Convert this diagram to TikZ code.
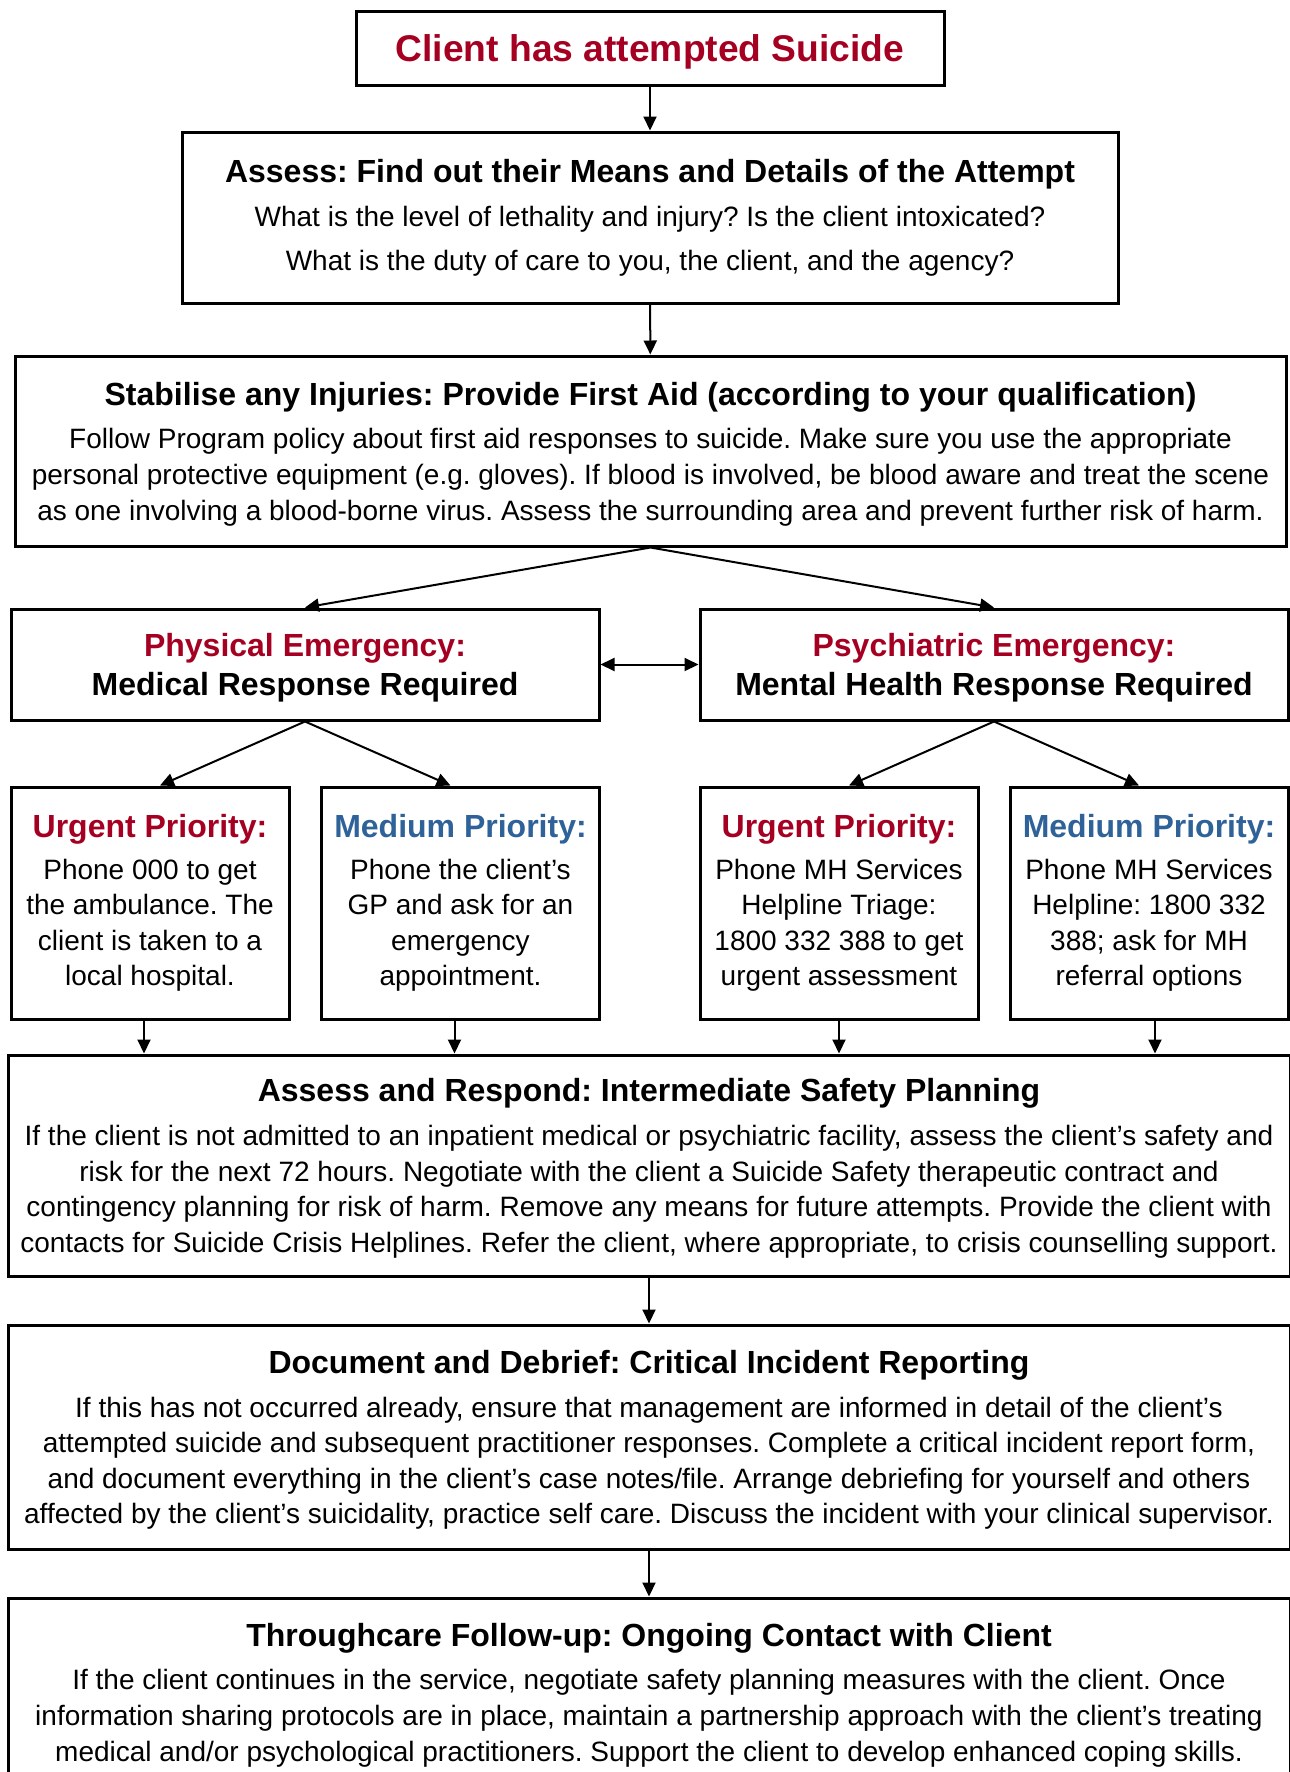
\documentclass[tikz,border=0pt]{standalone}
\usepackage{fontspec}
\setmainfont{Liberation Sans}
\usetikzlibrary{arrows.meta}
\definecolor{alertred}{RGB}{165,0,33}
\definecolor{calmblue}{RGB}{46,98,153}
\newcommand{\bodyfont}{\fontsize{14}{17.8}\selectfont\frenchspacing}
\newcommand{\headfont}{\fontsize{16}{19}\selectfont\bfseries}
\newcommand{\tagfont}{\fontsize{16}{19}\selectfont\bfseries}
\newcommand{\redtag}[1]{{\tagfont\color{alertred}#1}}
\newcommand{\bluetag}[1]{{\tagfont\color{calmblue}#1}}
\tikzset{
	box/.style={draw, line width=1.5pt, inner sep=0pt, align=center, font=\bodyfont},
	arr/.style={-{Triangle[length=7pt,width=6.5pt]}, line width=1pt},
	twoway/.style={{Triangle[length=7pt,width=6.5pt]}-{Triangle[length=7pt,width=6.5pt]}, line width=1pt}
}

\begin{document}
\begin{tikzpicture}[x=0.5pt, y=-0.5pt]
			%%%%% START %%%%%
			\useasboundingbox (0,0) rectangle (1290,1772);
			
			\node[box, minimum width=294pt, minimum height=37pt, text depth=0pt] (top) at (650, 48)
				{{\fontsize{18.6}{22}\selectfont\bfseries\color{alertred}Client has attempted Suicide}};
			
			\node[box, minimum width=468pt, minimum height=85.5pt, font={\fontsize{14}{22}\selectfont\frenchspacing}] (assess) at (650, 217.5)
				{{\headfont Assess: Find out their Means and Details of the Attempt}\\[0pt]
				What is the level of lethality and injury? Is the client intoxicated?\\
				What is the duty of care to you, the client, and the agency?};
			
			\node[box, minimum width=635.5pt, minimum height=95pt, text depth=0pt] (stab) at (650.5, 451)
				{{\headfont Stabilise any Injuries: Provide First Aid (according to your qualification)}\\[4pt]
				Follow Program policy about first aid responses to suicide. Make sure you use the appropriate\\
				personal protective equipment (e.g. gloves). If blood is involved, be blood aware and treat the scene\\
				as one involving a blood-borne virus. Assess the surrounding area and prevent further risk of harm.};
			
			\node[box, minimum width=294pt, minimum height=55.5pt, text depth=-4pt] (phys) at (305, 664.5)
				{\redtag{Physical Emergency:}\\[1.5pt]
				{\tagfont Medical Response Required}};
			\node[box, minimum width=294pt, minimum height=55.5pt, text depth=-4pt] (psych) at (994, 664.5)
				{\redtag{Psychiatric Emergency:}\\[1.5pt]
				{\tagfont Mental Health Response Required}};
			
			\node[box, minimum width=139pt, minimum height=116pt] (u1) at (150, 903)
				{\redtag{Urgent Priority:}\\[3pt]
				Phone 000 to get\\ the ambulance. The\\ client is taken to a\\ local hospital.};
			\node[box, minimum width=139pt, minimum height=116pt] (m1) at (460.5, 903)
				{\bluetag{Medium Priority:}\\[3pt]
				Phone the client’s\\ GP and ask for an\\ emergency\\ appointment.};
			\node[box, minimum width=139pt, minimum height=116pt] (u2) at (839, 903)
				{\redtag{Urgent Priority:}\\[3pt]
				Phone MH Services\\ Helpline Triage:\\ 1800 332 388 to get\\ urgent assessment};
			\node[box, minimum width=139pt, minimum height=116pt] (m2) at (1149, 903)
				{\bluetag{Medium Priority:}\\[3pt]
				Phone MH Services\\ Helpline: 1800 332\\ 388; ask for MH\\ referral options};
			
			\node[box, minimum width=641pt, minimum height=110.5pt, text depth=-4pt] (ar) at (649, 1165.5)
				{{\headfont Assess and Respond: Intermediate Safety Planning}\\[4pt]
				If the client is not admitted to an inpatient medical or psychiatric facility, assess the client’s safety and\\
				risk for the next 72 hours. Negotiate with the client a Suicide Safety therapeutic contract and\\
				contingency planning for risk of harm. Remove any means for future attempts. Provide the client with\\
				contacts for Suicide Crisis Helplines. Refer the client, where appropriate, to crisis counselling support.};
			
			\node[box, minimum width=641pt, minimum height=112pt, text depth=-3pt] (doc) at (649, 1437)
				{{\headfont Document and Debrief: Critical Incident Reporting}\\[4pt]
				If this has not occurred already, ensure that management are informed in detail of the client’s\\
				attempted suicide and subsequent practitioner responses. Complete a critical incident report form,\\
				and document everything in the client’s case notes/file. Arrange debriefing for yourself and others\\
				affected by the client’s suicidality, practice self care. Discuss the incident with your clinical supervisor.};
			
			\node[box, minimum width=641pt, minimum height=97pt] (thr) at (649, 1695)
				{{\headfont Throughcare Follow-up: Ongoing Contact with Client}\\[4pt]
				If the client continues in the service, negotiate safety planning measures with the client. Once\\
				information sharing protocols are in place, maintain a partnership approach with the client’s treating\\
				medical and/or psychological practitioners. Support the client to develop enhanced coping skills.};
			
			% connectors
			\draw[arr] (top) -- (assess);
			\draw[arr] (assess) -- (stab);
			\draw[arr] (stab.south) -- (phys.north);
			\draw[arr] (stab.south) -- (psych.north);
			\draw[twoway] (phys) -- (psych);
			
			\draw[arr] (phys.south) -- ([xshift=5pt]u1.north);
			\draw[arr] (phys.south) -- ([xshift=-5pt]m1.north);
			\draw[arr] (psych.south) -- ([xshift=5pt]u2.north);
			\draw[arr] (psych.south) -- ([xshift=-5pt]m2.north);
			
			\draw[arr] ([xshift=-3pt]u1.south) -- ([xshift=-3pt]u1.south |- ar.north);
			\draw[arr] ([xshift=-3pt]m1.south) -- ([xshift=-3pt]m1.south |- ar.north);
			\draw[arr] (u2.south) -- (u2.south |- ar.north);
			\draw[arr] ([xshift=3pt]m2.south) -- ([xshift=3pt]m2.south |- ar.north);
			
			\draw[arr] (ar) -- (doc);
			\draw[arr] (doc) -- (thr);
			%%%%% END %%%%%
\end{tikzpicture}
\end{document}
